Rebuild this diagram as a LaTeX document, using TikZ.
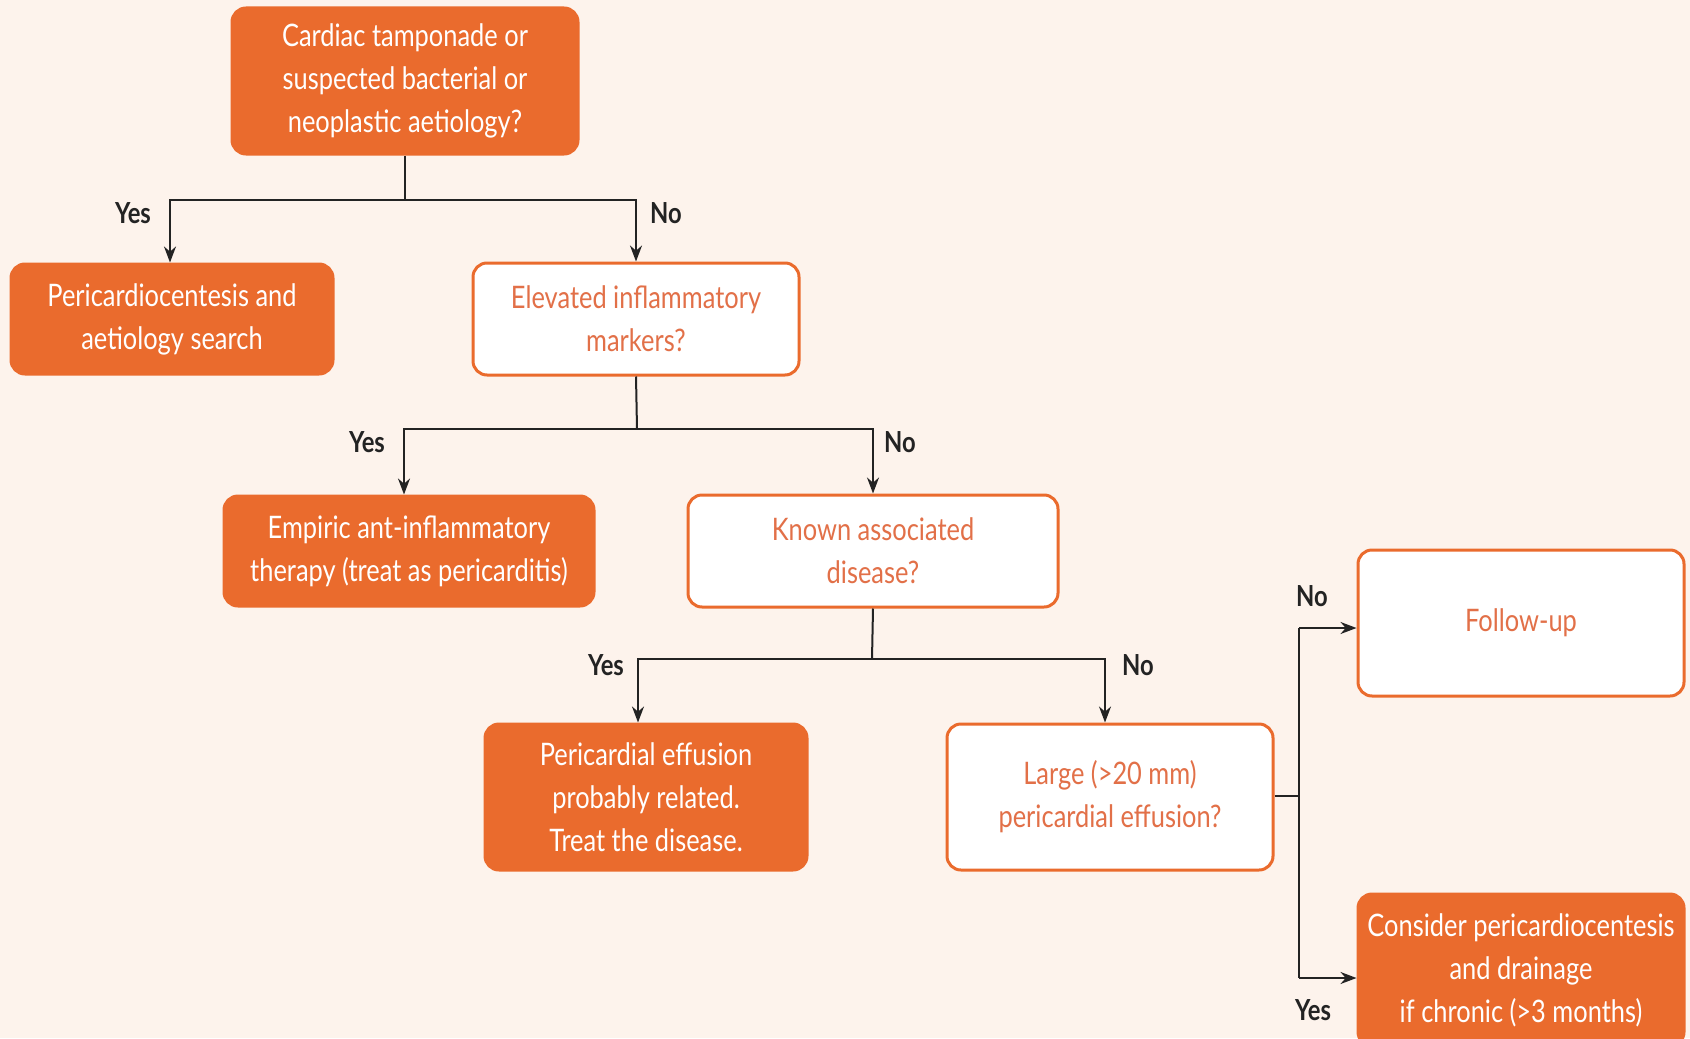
\documentclass[tikz,border=0pt]{standalone}
\usepackage{fontspec}
\setmainfont{Lato}[FakeStretch=0.82]
\usetikzlibrary{arrows.meta}
\definecolor{bg}{RGB}{253,243,236}
\definecolor{org}{RGB}{234,107,45}
\definecolor{orgtxt}{RGB}{226,112,72}
\definecolor{ink}{RGB}{35,35,35}
\begin{document}
\begin{tikzpicture}[x=0.5pt,y=-0.5pt,
  box/.style={rounded corners=7pt, align=center, font=\fontsize{15.5}{21.5}\selectfont, inner sep=0pt, line width=1.5pt},
  filled/.style={box, fill=org, draw=org, text=white},
  open/.style={box, fill=white, draw=org, text=orgtxt},
  conn/.style={line width=1pt, draw=ink},
  arr/.style={conn, -{Stealth[length=8pt,width=6pt]}},
  lbl/.style={font=\bfseries\fontsize{14.5}{16}\selectfont, text=ink, inner sep=0pt}]
\fill[bg] (0,0) rectangle (1690,1038);
\useasboundingbox (0,0) rectangle (1690,1038);

\node[filled, minimum width=173pt, minimum height=73pt] (b1) at (405,81)
  {Cardiac tamponade or\\suspected bacterial or\\neoplastic aetiology?};
\node[filled, minimum width=161pt, minimum height=55pt] (b2) at (172,319)
  {Pericardiocentesis and\\aetiology search};
\node[open, minimum width=163pt, minimum height=56pt] (b3) at (636,319)
  {Elevated inflammatory\\markers?};
\node[filled, minimum width=185pt, minimum height=55pt] (b4) at (409,551)
  {Empiric ant-inflammatory\\therapy (treat as pericarditis)};
\node[open, minimum width=185pt, minimum height=56pt] (b5) at (873,551)
  {Known associated\\disease?};
\node[filled, minimum width=161pt, minimum height=73pt] (b6) at (646,797)
  {Pericardial effusion\\probably related.\\Treat the disease.};
\node[open, minimum width=163pt, minimum height=73pt] (b7) at (1110,797)
  {Large (>20 mm)\\pericardial effusion?};
\node[open, minimum width=163pt, minimum height=73pt] (b8) at (1521,623)
  {Follow-up};
\node[filled, minimum width=163pt, minimum height=76pt] (b9) at (1521,970)
  {Consider pericardiocentesis\\and drainage\\if chronic (>3 months)};

% level 1
\coordinate (j1) at (405,200);
\draw[conn] (b1.south) -- (j1);
\draw[arr] (j1) -| ([xshift=-1pt]b2.north);
\draw[arr] (j1) -| (b3.north);
\node[lbl] (y1) at (133,213) {Yes};
\node[lbl] (n1) at (666,213) {No};

% level 2
\coordinate (j2) at (637,429);
\draw[conn] (b3.south) -- (j2);
\draw[arr] (j2) -| ([xshift=-2.5pt]b4.north);
\draw[arr] (j2) -| (b5.north);
\node[lbl] (y2) at (367,442) {Yes};
\node[lbl] (n2) at (900,442) {No};

% level 3
\coordinate (j3) at (872,659);
\draw[conn] (b5.south) -- (j3);
\draw[arr] (j3) -| ([xshift=-4pt]b6.north);
\draw[arr] (j3) -| ([xshift=-2.5pt]b7.north);
\node[lbl] (y3) at (606,665) {Yes};
\node[lbl] (n3) at (1138,665) {No};

% level 4
\coordinate (j4) at (1299,796);
\coordinate (t8) at (1299,628);
\coordinate (t9) at (1299,978);
\draw[conn] (b7.east |- j4) -- (j4);
\draw[conn] (t8) -- (t9);
\draw[arr] (t8) -- (t8 -| b8.west);
\draw[arr] (t9) -- (t9 -| b9.west);
\node[lbl] (n4) at (1312,596) {No};
\node[lbl] (y4) at (1313,1010) {Yes};
\end{tikzpicture}
\end{document}
